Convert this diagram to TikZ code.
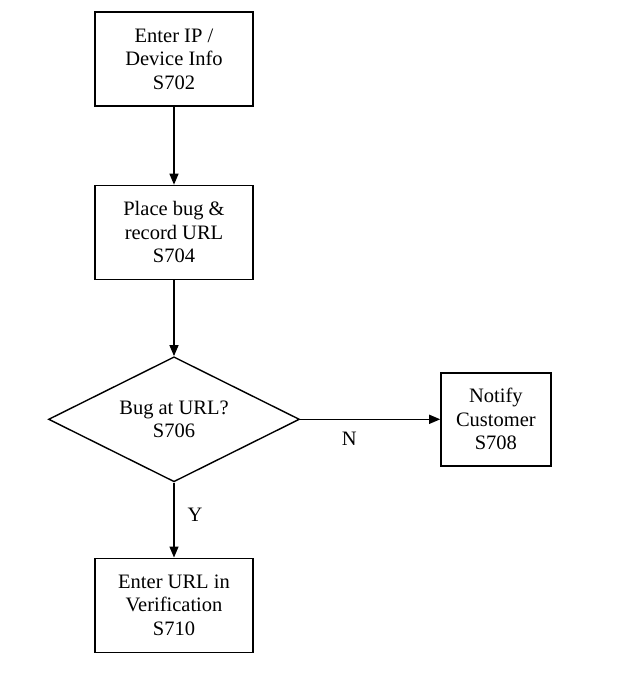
\documentclass[tikz,border=0pt]{standalone}
\usepackage{fontspec}
\setmainfont{Liberation Serif}
\usetikzlibrary{arrows.meta,shapes.geometric,positioning}

\begin{document}
\begin{tikzpicture}[->,>={Triangle[length=11pt,width=9pt]},line width=1.4pt,
                    node distance=78pt,
                    font=\fontsize{20.5}{23.5}\selectfont,
                    stepbox/.style={draw,rectangle,align=center,minimum width=158pt,
                                    minimum height=94pt,inner sep=0pt},
                    decision/.style={draw,diamond,aspect=2,align=center,minimum width=251pt,
                                     minimum height=125pt,inner sep=0pt}]

  \useasboundingbox (0,0) rectangle (622pt,-677pt);

  \node[stepbox]  (s702) at (174pt,-59pt)         {Enter IP /\\Device Info\\S702};
  \node[stepbox]  (s704) [below=of s702]          {Place bug \&\\record URL\\S704};
  \node[decision] (s706) [below=76pt of s704]     {Bug at URL?\\S706};
  \node[stepbox,minimum width=110pt,minimum height=93pt]
                  (s708) [right=140pt of s706]    {Notify\\Customer\\S708};
  \node[stepbox]  (s710) [below=75pt of s706]     {Enter URL in\\Verification\\S710};

  \path (s702) edge                                    (s704)
        (s704) edge                                    (s706)
        (s706) edge node[pos=0.35,yshift=-19pt] {N}    (s708)
        (s706) edge node[pos=0.43,xshift=21pt]  {Y}    (s710);
\end{tikzpicture}
\end{document}
